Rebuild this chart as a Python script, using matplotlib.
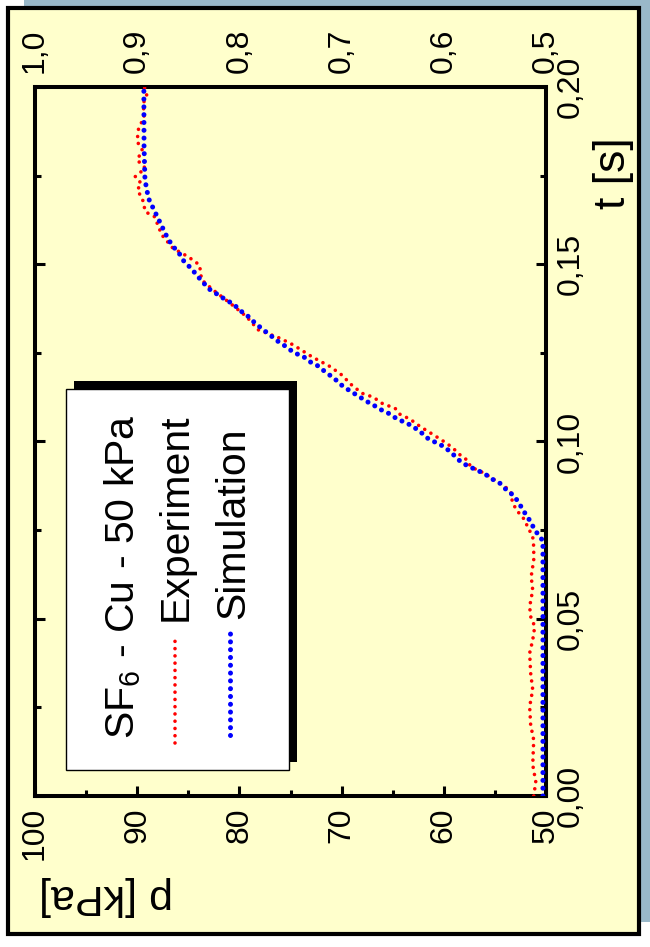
import matplotlib
matplotlib.use('Agg')
import matplotlib.pyplot as plt
from matplotlib.patches import Rectangle
from matplotlib.lines import Line2D
from matplotlib.ticker import FixedLocator, FuncFormatter, MultipleLocator, NullLocator

plt.rcParams['font.family'] = ['Liberation Sans', 'DejaVu Sans']
plt.rcParams['mathtext.default'] = 'regular'

# ---------------- data ----------------
t_sim = [0.000, 0.072, 0.0736, 0.0755, 0.0779, 0.0802, 0.0824, 0.0846, 0.0863, 0.0882,
         0.0893, 0.0908, 0.0920, 0.0930, 0.0943, 0.0964, 0.0984, 0.0995, 0.1006, 0.1025,
         0.1042, 0.1053, 0.1063, 0.1078, 0.1089, 0.1103, 0.1114, 0.1129, 0.1143, 0.1159,
         0.1180, 0.1194, 0.1213, 0.1225, 0.1241, 0.1250, 0.1267, 0.1282, 0.1298, 0.1316,
         0.1335, 0.1352, 0.1369, 0.1388, 0.1399, 0.1416, 0.1429, 0.1450, 0.1470, 0.1488,
         0.1507, 0.1531, 0.1554, 0.1578, 0.1620, 0.1662, 0.1686, 0.1738, 0.1832, 0.2000]
p_sim = [50.3, 50.3, 50.75, 51.17, 51.63, 52.15, 52.6, 53.1, 53.85, 54.5,
         55.2, 55.96, 56.8, 57.6, 58.35, 59.1, 59.9, 60.6, 61.45, 62.2,
         63.0, 63.7, 64.55, 65.3, 66.1, 66.9, 67.6, 68.4, 69.2, 70.0,
         70.8, 71.5, 72.3, 73.1, 73.8, 74.65, 75.4, 76.2, 76.9, 77.7,
         78.5, 79.1, 79.9, 80.6, 81.3, 82.2, 82.9, 83.6, 84.2, 84.7,
         85.4, 85.9, 86.6, 87.1, 87.8, 88.5, 88.9, 89.24, 89.33, 89.35]

t_exp = [0.000, 0.004, 0.0088, 0.0158, 0.0200, 0.0252, 0.0300, 0.0346, 0.0403, 0.0440,
         0.0478, 0.0506, 0.0534, 0.0581, 0.0619, 0.0666, 0.0703, 0.0731, 0.0760, 0.0783,
         0.0807, 0.0830, 0.0854, 0.0873, 0.0890, 0.0910, 0.0929, 0.0945, 0.0962, 0.0984,
         0.1004, 0.1025, 0.1042, 0.1063, 0.1077, 0.1095, 0.1105, 0.1125, 0.1136, 0.1159,
         0.1188, 0.1211, 0.1239, 0.1272, 0.1291, 0.1315, 0.1352, 0.1390, 0.1427, 0.1456,
         0.1498, 0.1521, 0.1545, 0.1583, 0.1634, 0.1648, 0.1686, 0.1709, 0.1728, 0.1747,
         0.1771, 0.1794, 0.1822, 0.1846, 0.1879, 0.1916, 0.1954, 0.1977, 0.2000]
p_exp = [51.2, 51.0, 51.3, 51.2, 51.5, 51.6, 51.3, 51.5, 51.6, 51.3,
         51.1, 51.5, 51.6, 51.3, 51.45, 51.2, 51.2, 51.3, 51.8, 52.2,
         52.9, 53.3, 53.4, 54.0, 54.95, 56.0, 57.4, 57.6, 58.4, 59.2,
         60.2, 61.35, 62.3, 63.3, 64.3, 64.8, 65.9, 66.9, 68.0, 69.0,
         70.0, 71.1, 72.9, 74.7, 76.0, 78.15, 79.3, 80.9, 82.55, 83.7,
         83.9, 85.0, 86.5, 87.6, 88.3, 89.2, 89.5, 90.0, 89.6, 90.2,
         89.2, 90.0, 89.5, 90.0, 89.9, 89.33, 89.4, 89.07, 89.3]

p_ticks = [100, 90, 80, 70, 60, 50]
ratio_labels = ['1,0', '0,9', '0,8', '0,7', '0,6', '0,5']
t_ticks = [0.00, 0.05, 0.10, 0.15, 0.20]

legend_title = 'SF$_6$ - Cu - 50 kPa'
series_names = ['Experiment', 'Simulation']
x_label = 'p [kPa]'
y_label = 't [s]'

# ---------------- figure ----------------
W, H = 650, 947
fig = plt.figure(figsize=(6.5, 9.47), dpi=100, facecolor='white')


def fx(x):
    return x / W


def fy(y):
    return 1 - y / H


YELLOW = '#ffffcc'
fig.add_artist(Rectangle((fx(24), fy(922)), (650 - 24) / W, 922 / H,
                         transform=fig.transFigure, facecolor='#99b8c9',
                         edgecolor='none', zorder=-3))
fig.add_artist(Rectangle((fx(8), fy(934)), 631 / W, 926 / H,
                         transform=fig.transFigure, facecolor=YELLOW,
                         edgecolor='black', lw=3, zorder=-2))

ax = fig.add_axes([fx(35), fy(796), 511 / W, 709 / H])
ax.set_facecolor(YELLOW)

red_style = dict(color='#ff0000', lw=2.6, linestyle=(0, (0.01, 2.0)),
                 dash_capstyle='round', solid_capstyle='round')
blue_style = dict(color='#0000ff', lw=3.6, linestyle=(0, (0.01, 1.55)),
                  dash_capstyle='round', solid_capstyle='round')

ax.plot(p_exp, t_exp, zorder=3, **red_style)
ax.plot(p_sim, t_sim, zorder=4, **blue_style)

ax.set_xlim(100, 50)
ax.set_ylim(0, 0.2)
ax.xaxis.set_major_locator(FixedLocator(p_ticks))
ax.xaxis.set_minor_locator(MultipleLocator(5))
ax.yaxis.set_major_locator(FixedLocator(t_ticks))
ax.yaxis.set_minor_locator(MultipleLocator(0.025))
ax.xaxis.set_major_formatter(FuncFormatter(lambda v, pos: f'{v:.0f}'))
ax.yaxis.set_major_formatter(FuncFormatter(lambda v, pos: f'{v:.2f}'.replace('.', ',')))

ax.tick_params(which='both', direction='in', top=True, bottom=True, left=True,
               right=True, labelleft=False, labelright=True, labelbottom=True,
               labeltop=False, width=2.2, colors='black')
ax.tick_params(which='major', length=7.5)
ax.tick_params(which='minor', length=4)
ax.tick_params(axis='x', labelrotation=90, labelsize=23, pad=8)
ax.tick_params(axis='y', labelrotation=90, labelsize=23, pad=7)
for lab in ax.get_yticklabels():
    lab.set_va('center')
for s in ax.spines.values():
    s.set_linewidth(2.9)

ax.set_xlabel(x_label, fontsize=31, rotation=180, ha='center', va='center')
ax.xaxis.set_label_coords((106 - 35) / 511, (796 - 896) / 709)
ax.yaxis.set_label_position('right')
ax.set_ylabel(y_label, fontsize=32, rotation=90, ha='center', va='center')
ax.yaxis.set_label_coords((613 - 35) / 511, (796 - 173) / 709)

# top scale (p / 100 kPa)
ax2 = ax.twiny()
ax2.set_xlim(100, 50)
ax2.set_xticks(p_ticks, labels=ratio_labels)
ax2.xaxis.set_minor_locator(NullLocator())
ax2.tick_params(axis='x', length=0, labelrotation=90, labelsize=23, pad=10)
for s in ax2.spines.values():
    s.set_visible(False)
ax2.patch.set_visible(False)

# ---------------- legend ----------------
fig.add_artist(Rectangle((fx(74), fy(762)), (297 - 74) / W, (762 - 381) / H,
                         transform=fig.transFigure, facecolor='black',
                         edgecolor='none', zorder=5))
fig.add_artist(Rectangle((fx(66), fy(770)), (289 - 66) / W, (770 - 389) / H,
                         transform=fig.transFigure, facecolor='white',
                         edgecolor='black', lw=1, zorder=6))
fig.text(fx(134), fy(739), legend_title, rotation=90, rotation_mode='anchor',
         ha='left', va='baseline', fontsize=29.5, zorder=7)
fig.text(fx(187), fy(621), series_names[0], rotation=90, rotation_mode='anchor',
         ha='left', va='baseline', fontsize=29.5, zorder=7)
fig.text(fx(244), fy(619), series_names[1], rotation=90, rotation_mode='anchor',
         ha='left', va='baseline', fontsize=29.5, zorder=7)
fig.add_artist(Line2D([fx(175), fx(175)], [fy(743), fy(635)],
                      transform=fig.transFigure, zorder=7, **red_style))
fig.add_artist(Line2D([fx(230), fx(230)], [fy(735), fy(627)],
                      transform=fig.transFigure, zorder=7, **blue_style))

fig.savefig('out.png', dpi=100, facecolor='white')
